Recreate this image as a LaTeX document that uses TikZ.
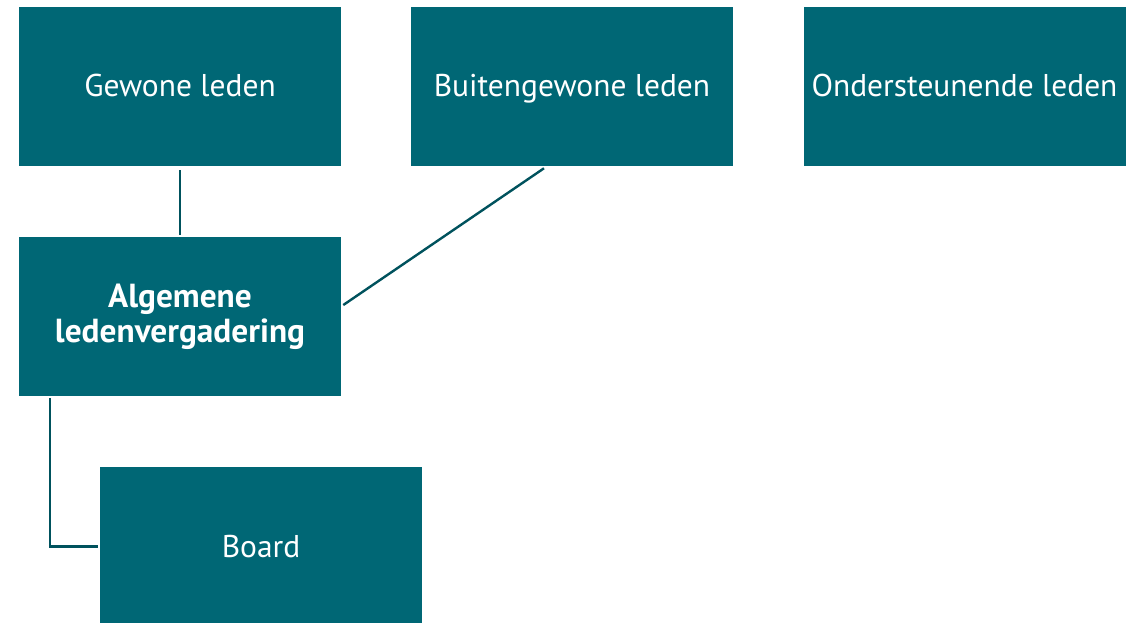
\documentclass[tikz,border=0pt]{standalone}
\usepackage{fontspec}
\setmainfont{PT Sans}
\definecolor{teal9}{HTML}{006775}
\definecolor{tealdark}{HTML}{00525D}

\begin{document}
\begin{tikzpicture}
  [x=0.75pt, y=-0.75pt,
   every node/.style={font=\fontsize{23.6}{28}\selectfont, text=white},
   member/.style={fill=teal9, minimum width=241.5pt, minimum height=119.25pt, inner sep=0pt, text height=18pt, text depth=2.25pt},
   link/.style={draw=tealdark, line width=1.8pt}]

  \useasboundingbox (0,0) rectangle (1135,623);

  %Draw the member boxes
  \node[member] at (180,86.5) (gewone) {Gewone leden};
  \node[member] at (572,86.5) (buiten) {Buitengewone leden};
  \node[member] at (964.5,86.5) (onder) {Ondersteunende leden};

  %Draw the assembly and the board
  \node[member, text height=, text depth=, align=center, font=\fontsize{25}{26.5}\selectfont\bfseries] at (180,316.5) (alv) {Algemene\\ledenvergadering};
  \node[member] at (261,546.5) (board) {Board};

  %Connect them
  \draw[link] ([yshift=-3pt]gewone.south) -- ([yshift=1.5pt]alv.north);
  \draw[link] ([xshift=-21pt,yshift=-1.5pt]buiten.south) -- ([xshift=1.5pt,yshift=8.6pt]alv.east);
  \draw[link] ([xshift=23.25pt,yshift=-1.5pt]alv.south west) |- ([xshift=-1.5pt]board.west);
\end{tikzpicture}
\end{document}
